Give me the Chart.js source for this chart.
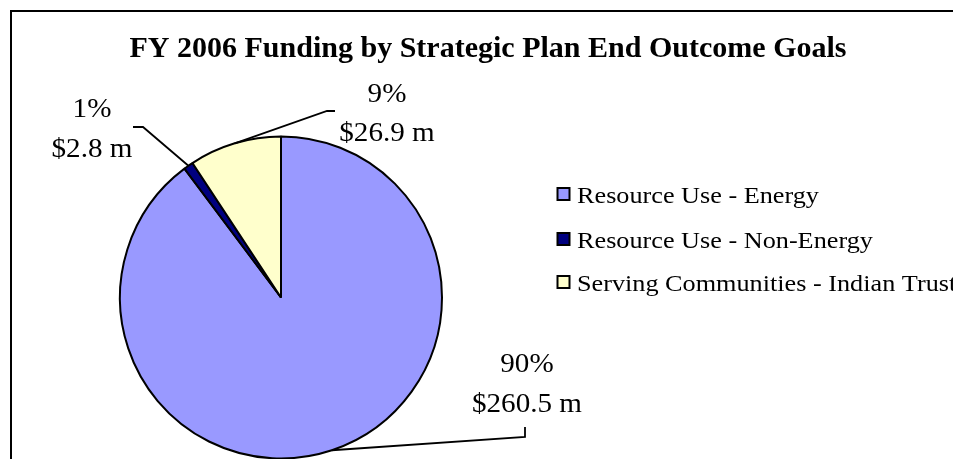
<!DOCTYPE html>
<html>
<head>
<meta charset="utf-8">
<script src="https://cdn.jsdelivr.net/npm/chart.js@4/dist/chart.umd.min.js"></script>
<style>
  html, body { margin: 0; padding: 0; background: #ffffff; overflow: hidden; width: 953px; height: 459px; }
  #wrap { position: absolute; left: 0; top: 0; width: 1000px; height: 480px; }
</style>
</head>
<body>
<div id="wrap"><canvas id="c"></canvas></div>
<script>
// ---- data ----
const categories = ['Resource Use - Energy', 'Resource Use - Non-Energy', 'Serving Communities - Indian Trust'];
const fundingMillions = [260.5, 2.8, 26.9];
const percentLabels = ['90%', '1%', '9%'];
const amountLabels = ['$260.5 m', '$2.8 m', '$26.9 m'];
const chartTitle = 'FY 2006 Funding by Strategic Plan End Outcome Goals';

// ---- styling / layout ----
const sliceColors = ['#9999FF', '#000080', '#FFFFCC'];
const serif = "'Liberation Serif', 'Times New Roman', serif";
// label placement: text centre x, first baseline y, leader elbow, leader end
const labelLayout = [
  { x: 527, y: 372, elbow: [525, 437], end: [525, 427] },
  { x: 92,  y: 117, elbow: [143, 127], end: [133, 127] },
  { x: 387, y: 101.5, elbow: [327, 111], end: [335, 111] }
];
const labelLineGap = 39.5;

function stretchedText(ctx, text, x, y, align, sx) {
  ctx.save();
  ctx.translate(x, y);
  ctx.scale(sx, 1);
  ctx.textAlign = align;
  ctx.textBaseline = 'alphabetic';
  ctx.fillText(text, 0, 0);
  ctx.restore();
}

const decor = {
  id: 'decor',
  beforeDraw(chart) {
    const ctx = chart.ctx;
    ctx.save();
    ctx.fillStyle = '#ffffff';
    ctx.fillRect(0, 0, chart.width, chart.height);
    ctx.strokeStyle = '#000000';
    ctx.lineWidth = 2;
    ctx.beginPath();
    ctx.moveTo(11, chart.height);
    ctx.lineTo(11, 11);
    ctx.lineTo(chart.width, 11);
    ctx.stroke();
    ctx.restore();
  },
  afterDraw(chart) {
    const ctx = chart.ctx;
    ctx.save();
    ctx.fillStyle = '#000000';
    // title
    ctx.font = 'bold 29px ' + serif;
    stretchedText(ctx, chartTitle, 488, 57, 'center', 1.035);

    // legend
    const legendRows = [203, 248, 291];
    chart.data.labels.forEach((lab, i) => {
      const by = legendRows[i];
      ctx.fillStyle = chart.data.datasets[0].backgroundColor[i];
      ctx.fillRect(557.5, by - 15, 12, 12);
      ctx.strokeStyle = '#000000';
      ctx.lineWidth = 2;
      ctx.strokeRect(557.5, by - 15, 12, 12);
      ctx.fillStyle = '#000000';
      ctx.font = '23px ' + serif;
      stretchedText(ctx, lab, 577, by, 'left', 1.14);
    });

    // data labels with leader lines
    const meta = chart.getDatasetMeta(0);
    meta.data.forEach((arc, i) => {
      const p = arc.getProps(['x', 'y', 'startAngle', 'endAngle', 'outerRadius'], true);
      const mid = (p.startAngle + p.endAngle) / 2;
      const sx = p.x + Math.cos(mid) * p.outerRadius;
      const sy = p.y + Math.sin(mid) * p.outerRadius;
      const L = labelLayout[i];
      ctx.strokeStyle = '#000000';
      ctx.lineWidth = 1.8;
      ctx.beginPath();
      ctx.moveTo(sx, sy);
      ctx.lineTo(L.elbow[0], L.elbow[1]);
      ctx.lineTo(L.end[0], L.end[1]);
      ctx.stroke();
      ctx.fillStyle = '#000000';
      ctx.font = '28px ' + serif;
      stretchedText(ctx, percentLabels[i], L.x, L.y, 'center', 1.04);
      stretchedText(ctx, amountLabels[i], L.x, L.y + labelLineGap, 'center', 1.04);
    });
    ctx.restore();
  }
};

new Chart(document.getElementById('c'), {
  type: 'pie',
  data: {
    labels: categories,
    datasets: [{
      data: fundingMillions,
      backgroundColor: sliceColors,
      borderColor: '#000000',
      borderWidth: 2
    }]
  },
  options: {
    responsive: true,
    maintainAspectRatio: false,
    animation: false,
    events: [],
    layout: { padding: { left: 119, top: 135.5, right: 557, bottom: 20.5 } },
    plugins: {
      legend: { display: false },
      title: { display: false },
      tooltip: { enabled: false }
    }
  },
  plugins: [decor]
});
</script>
</body>
</html>
